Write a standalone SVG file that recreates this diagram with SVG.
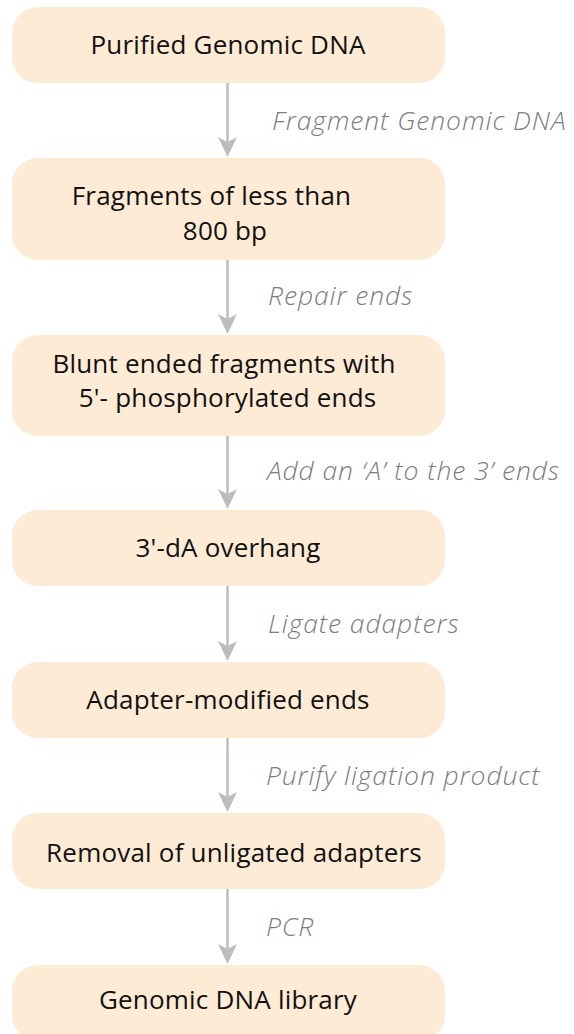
<svg xmlns="http://www.w3.org/2000/svg" width="574" height="1034" viewBox="0 0 574 1034">
<defs>
<style>
.box{fill:#FDEBD6;}
.t{font-family:"Open Sans","Liberation Sans",sans-serif;font-size:26px;letter-spacing:0.2px;fill:#111;text-anchor:middle;}
.lbl{font-family:"Open Sans","Liberation Sans",sans-serif;font-size:26.5px;letter-spacing:0.9px;font-style:italic;font-weight:300;fill:#7d7d7d;}
.ln{stroke:#bdbdbd;stroke-width:2.5;fill:none;}
.hd{fill:#bdbdbd;}
</style>
</defs>
<rect width="574" height="1034" fill="#fff"/>
<g id="connectors">
<line class="ln" x1="227.5" y1="83" x2="227.5" y2="145"/>
<path class="hd" d="M218,137 L227.5,157 L237,137 L227.5,142 Z"/>
<text class="lbl" x="272" y="130">Fragment Genomic DNA</text>
<line class="ln" x1="227.5" y1="260" x2="227.5" y2="322"/>
<path class="hd" d="M218,314 L227.5,334 L237,314 L227.5,319 Z"/>
<text class="lbl" x="268" y="305">Repair ends</text>
<line class="ln" x1="227.5" y1="436" x2="227.5" y2="497"/>
<path class="hd" d="M218,489 L227.5,509 L237,489 L227.5,494 Z"/>
<text class="lbl" x="267" y="480">Add an ‘A’ to the 3’ ends</text>
<line class="ln" x1="227.5" y1="586" x2="227.5" y2="649"/>
<path class="hd" d="M218,641 L227.5,661 L237,641 L227.5,646 Z"/>
<text class="lbl" x="268" y="633">Ligate adapters</text>
<line class="ln" x1="227.5" y1="738" x2="227.5" y2="800"/>
<path class="hd" d="M218,792 L227.5,812 L237,792 L227.5,797 Z"/>
<text class="lbl" x="266" y="785">Purify ligation product</text>
<line class="ln" x1="227.5" y1="889" x2="227.5" y2="952"/>
<path class="hd" d="M218,944 L227.5,964 L237,944 L227.5,949 Z"/>
<text class="lbl" x="266" y="936">PCR</text>
</g>
<g id="n1"><rect class="box" x="12" y="7" width="433" height="76" rx="26"/><text class="t" x="228" y="54">Purified Genomic DNA</text></g>
<g id="n2"><rect class="box" x="12" y="158" width="433" height="102" rx="26"/><text class="t" x="211.5" y="205">Fragments of less than</text><text class="t" x="225" y="240">800 bp</text></g>
<g id="n3"><rect class="box" x="12" y="335" width="433" height="101" rx="26"/><text class="t" x="224" y="373">Blunt ended fragments with</text><text class="t" x="227.5" y="407">5'- phosphorylated ends</text></g>
<g id="n4"><rect class="box" x="12" y="510" width="433" height="76" rx="26"/><text class="t" x="228" y="557">3'-dA overhang</text></g>
<g id="n5"><rect class="box" x="12" y="662" width="433" height="76" rx="26"/><text class="t" x="228" y="709">Adapter-modified ends</text></g>
<g id="n6"><rect class="box" x="12" y="813" width="433" height="76" rx="26"/><text class="t" x="234" y="862">Removal of unligated adapters</text></g>
<g id="n7"><rect class="box" x="12" y="965" width="433" height="76" rx="26"/><text class="t" x="228" y="1009">Genomic DNA library</text></g>
</svg>
